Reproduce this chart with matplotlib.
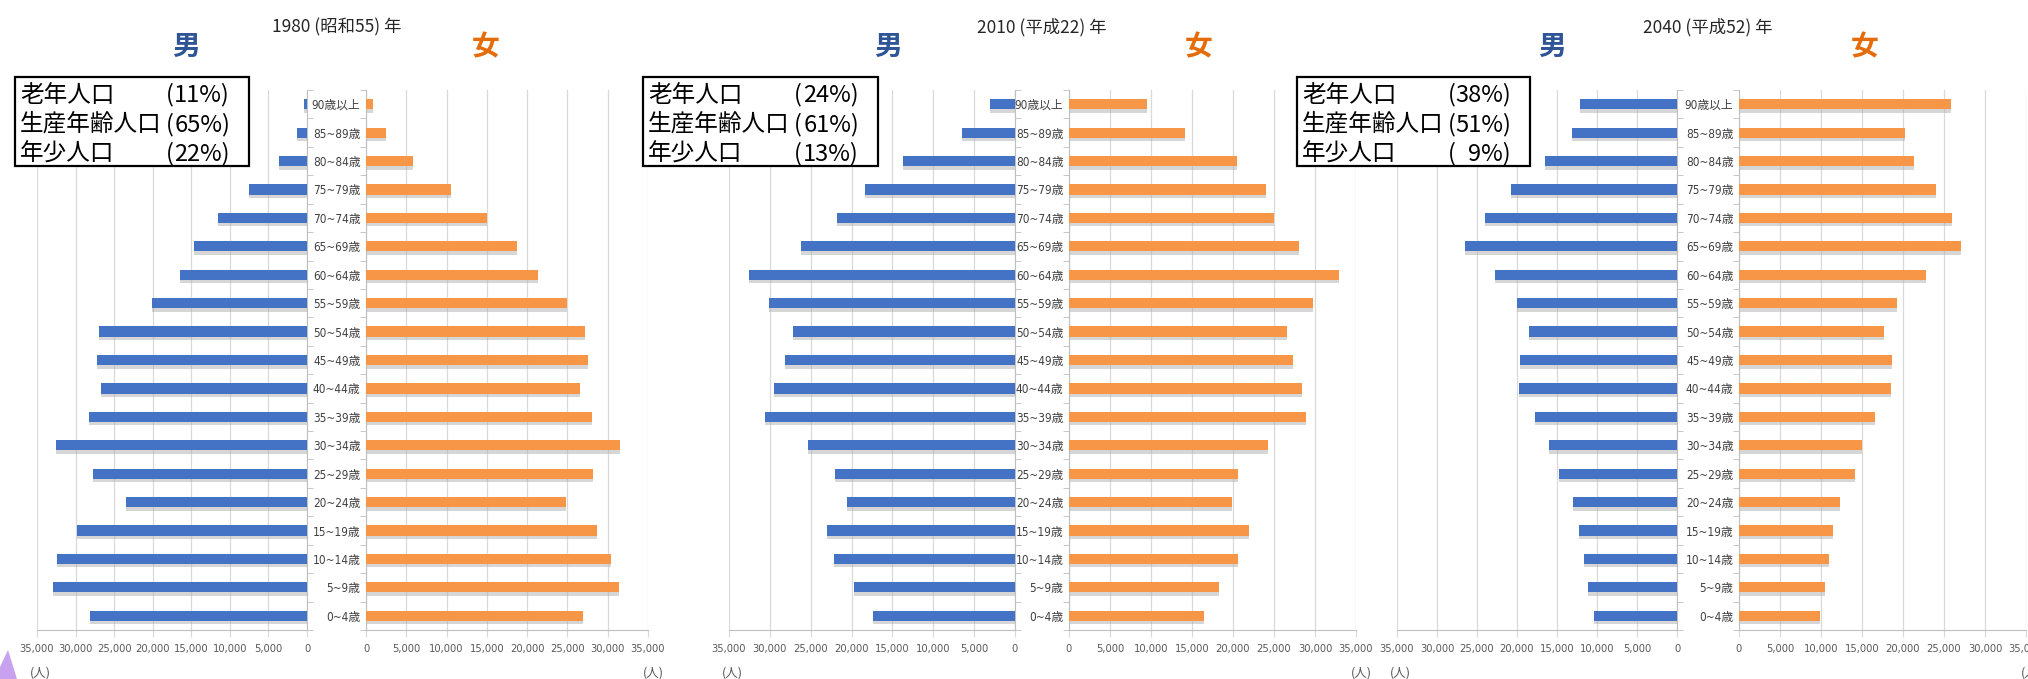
import numpy as np
import matplotlib
matplotlib.use("Agg")
import matplotlib.pyplot as plt
from matplotlib import font_manager
from matplotlib.font_manager import FontProperties
from matplotlib.patches import Rectangle, Polygon
from matplotlib.ticker import FuncFormatter

# 年齢階級（上から下へ）
ages = ["90歳以上", "85~89歳", "80~84歳", "75~79歳", "70~74歳", "65~69歳",
        "60~64歳", "55~59歳", "50~54歳", "45~49歳", "40~44歳", "35~39歳",
        "30~34歳", "25~29歳", "20~24歳", "15~19歳", "10~14歳", "5~9歳", "0~4歳"]

# 人口（人）
male_1980 = [400, 1350, 3600, 7500, 11600, 14600, 16500, 20100, 27000, 27200,
             26700, 28200, 32600, 27800, 23400, 29800, 32400, 32900, 28100]
female_1980 = [900, 2500, 5850, 10600, 15000, 18700, 21300, 24900, 27200, 27600,
               26600, 28000, 31500, 28200, 24800, 28700, 30400, 31400, 26900]
male_2010 = [3000, 6500, 13700, 18300, 21800, 26200, 32600, 30100, 27200, 28200,
             29500, 30600, 25300, 22000, 20600, 23000, 22100, 19700, 17400]
female_2010 = [9500, 14200, 20500, 24000, 25000, 28000, 32900, 29700, 26600, 27300,
               28400, 28900, 24300, 20600, 19900, 21900, 20600, 18300, 16500]
male_2040 = [12100, 13100, 16500, 20700, 24000, 26500, 22700, 20000, 18500, 19600,
             19700, 17800, 16000, 14800, 13000, 12200, 11600, 11100, 10400]
female_2040 = [25900, 20200, 21400, 24000, 26000, 27100, 22800, 19300, 17700, 18600,
               18500, 16600, 15000, 14100, 12300, 11500, 11000, 10500, 9900]

titles = ["1980 (昭和55) 年", "2010 (平成22) 年", "2040 (平成52) 年"]
group_names = ["老年人口", "生産年齢人口", "年少人口"]
shares_1980 = ["11%)", "65%)", "22%)"]
shares_2010 = ["24%)", "61%)", "13%)"]
shares_2040 = ["38%)", "51%)", "9%)"]

males = [male_1980, male_2010, male_2040]
females = [female_1980, female_2010, female_2040]
shares = [shares_1980, shares_2010, shares_2040]

BLUE = "#4472C4"
ORANGE = "#F79646"
GRID = "#D9D9D9"
SPINE = "#BFBFBF"

plt.rcParams["font.family"] = ["Noto Sans CJK JP", "DejaVu Sans"]


# 数字用の細い書体を探す（なければ Liberation Sans を小さめに）
def narrow_font():
    best = None
    for f in font_manager.fontManager.ttflist:
        path = f.fname.lower()
        if any(w in path for w in ("bold", "italic", "oblique")):
            continue
        if "narrow" in path or "condensed" in path:
            if best is None or "liberation" in path:
                best = f
    return best


narrow = narrow_font()
if narrow is not None:
    num_prop = FontProperties(fname=narrow.fname, size=8)
    label_family = [narrow.name, "Noto Sans CJK JP"]
    label_stretch = narrow.stretch
else:
    num_prop = FontProperties(family="Liberation Sans", size=7.5)
    label_family = ["Noto Sans CJK JP", "DejaVu Sans"]
    label_stretch = "normal"

W, H = 2028, 679
fig = plt.figure(figsize=(W / 100, H / 100), dpi=100)


def fx(px):
    return px / W


def fy(py):
    return 1 - py / H


# パネル配置（ピクセル）: 男軸左, 男軸右, 女軸左, 女軸右, 男字x, 女字x, 枠左, 枠右
panels = [
    (37, 307, 366, 648, 186, 486, 15, 249),
    (729, 1015, 1069, 1356, 888, 1199, 643, 878),
    (1397, 1677, 1739, 2026, 1552, 1865, 1297, 1530),
]
TOP, BOTTOM = 90, 630
ypos = np.arange(len(ages))
fmt = FuncFormatter(lambda v, p: f"{int(v):,}")
axes = []


def style_axis(ax, inner):
    ax.set_ylim(len(ages) - 0.5, -0.5)
    ax.set_xticks(range(0, 35001, 5000))
    ax.xaxis.set_major_formatter(fmt)
    ax.xaxis.grid(True, color=GRID, lw=0.9)
    ax.set_axisbelow(True)
    for s in ["top", "left", "right"]:
        ax.spines[s].set_visible(False)
    ax.spines["bottom"].set_color(SPINE)
    ax.spines[inner].set_visible(True)
    ax.spines[inner].set_color(SPINE)
    ax.tick_params(axis="x", length=5, color=GRID, labelcolor="#595959", pad=5)
    ax.set_yticks(np.arange(-0.5, len(ages), 1), minor=True)
    ax.yaxis.set_ticks_position(inner)
    ax.tick_params(axis="y", which="minor", length=4, color=SPINE)
    ax.tick_params(axis="y", which="major", length=0)
    ax.set_facecolor("none")
    axes.append(ax)


for i, (ml, mr, fl, fr, mx, wx, bl, br) in enumerate(panels):
    h = (BOTTOM - TOP) / H
    # 男性
    axm = fig.add_axes([fx(ml), fy(BOTTOM), (mr - ml) / W, h])
    axm.barh(ypos + 0.12, males[i], height=0.36, color="#A6A6A6", alpha=0.45, zorder=2)
    axm.barh(ypos, males[i], height=0.36, color=BLUE, zorder=3)
    axm.set_xlim(35000, 0)
    style_axis(axm, "right")
    axm.set_yticks([])

    # 女性
    axf = fig.add_axes([fx(fl), fy(BOTTOM), (fr - fl) / W, h])
    axf.barh(ypos + 0.12, females[i], height=0.36, color="#A6A6A6", alpha=0.45, zorder=2)
    axf.barh(ypos, females[i], height=0.36, color=ORANGE, zorder=3)
    axf.set_xlim(0, 35000)
    style_axis(axf, "left")
    axf.set_yticks(ypos, labels=ages, fontsize=8.5, color="#404040",
                   fontfamily=label_family, fontstretch=label_stretch)
    axf.tick_params(axis="y", which="major", pad=4)

    # 見出し
    fig.text(fx((mr + fl) / 2), fy(27), titles[i], ha="center", va="center",
             fontsize=12.5, color="#262626")
    fig.text(fx(mx), fy(47), "男", ha="center", va="center", fontsize=20,
             fontweight="bold", color="#2F5597")
    fig.text(fx(wx), fy(47), "女", ha="center", va="center", fontsize=20,
             fontweight="bold", color="#E46C0A")

    # 単位
    fig.text(fx(ml + 3), fy(673), "(人)", ha="center", va="center", fontsize=9,
             color="#595959")
    fig.text(fx(fr + 5), fy(673), "(人)", ha="center", va="center", fontsize=9,
             color="#595959")

    # 年齢3区分の割合
    fig.add_artist(Rectangle((fx(bl), fy(166)), (br - bl) / W, (166 - 77) / H,
                             transform=fig.transFigure, facecolor="white",
                             edgecolor="black", lw=1.6, zorder=5))
    for k, (name, pct) in enumerate(zip(group_names, shares[i])):
        yy = fy(95 + k * 29.5)
        fig.text(fx(bl + 5), yy, name, ha="left", va="center", fontsize=17,
                 color="black", zorder=6)
        fig.text(fx(bl + 151), yy, "(", ha="left", va="center", fontsize=17,
                 color="black", zorder=6)
        fig.text(fx(br - 19), yy, pct, ha="right", va="center", fontsize=17,
                 color="black", zorder=6)

# 左下の飾り
fig.add_artist(Polygon([(0, 0), (0, fy(667)), (fx(8), fy(650)), (fx(17), 0)],
                       closed=True, transform=fig.transFigure,
                       facecolor="#C8A2F0", edgecolor="none"))

# 目盛りの数字に細い書体を当てる
fig.canvas.draw()
for ax in axes:
    for t in ax.get_xticklabels():
        t.set_fontproperties(num_prop)

fig.savefig("out.png", dpi=100)
